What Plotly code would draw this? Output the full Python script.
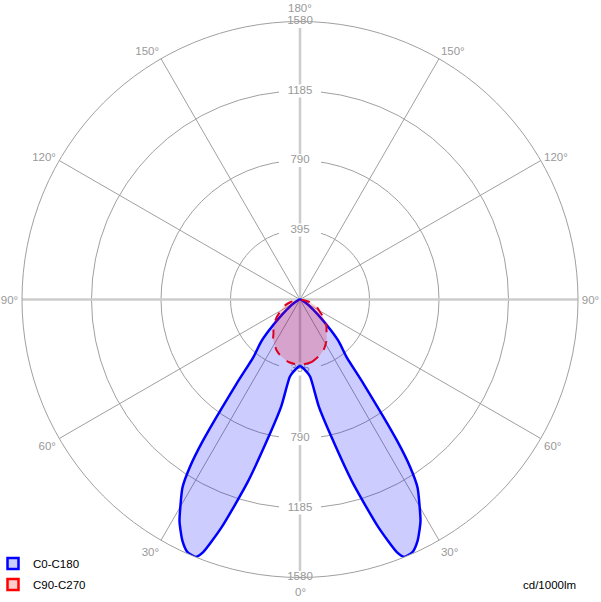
import plotly.graph_objects as go

# gamma angles (degrees from nadir)
gamma = [0, 5, 7.5, 10, 13, 16, 19, 21, 22, 24, 26, 28.5, 30, 32, 33.3, 34.5, 37, 39, 42.5, 45, 50, 55, 60, 70, 80, 90]
# C0-C180 intensity (cd/1000lm)
c0_c180 = [380, 410, 443, 620, 810, 1080, 1370, 1540, 1578, 1572, 1525, 1435, 1360, 1261, 1142, 975, 600, 421, 330, 250, 130, 70, 35, 12, 5, 3]
# C90-C270 intensity (cd/1000lm)
gamma_c90 = [0, 10, 20, 25, 30, 34.5, 38, 45, 53, 60, 67, 75, 82, 90]
c90_c270 = [370, 362, 335, 317, 292, 270, 245, 212, 165, 125, 100, 55, 18, 0]

r_ticks = [395, 790, 1185, 1580]
r_max = 1580
ang_vals = list(range(0, 360, 30))
ang_text = ["", "30°", "60°", "90°", "120°", "150°", "", "150°", "120°", "90°", "60°", "30°"]
pole_text = ["180°", "0°"]

FONT = "Liberation Sans"


def full_curve(g, v):
    # C0 on the right (theta = gamma), C180 on the left (theta = 360 - gamma)
    theta = list(g) + [360 - x for x in reversed(g)]
    r = list(v) + list(reversed(v))
    return theta, r


fig = go.Figure()

# main axes lines (0-180 and 90-270), lighter and thicker
for a in (0, 90, 180, 270):
    fig.add_trace(go.Scatterpolar(
        theta=[a, a], r=[0, r_max], mode="lines",
        line=dict(color="#cccccc", width=2.5), showlegend=False, hoverinfo="skip"))

# radial labels with white background on vertical axis
lab_theta = [180] * len(r_ticks) + [0] * len(r_ticks)
lab_r = r_ticks + r_ticks
lab_txt = [str(v) for v in r_ticks] * 2
fig.add_trace(go.Scatterpolar(
    theta=lab_theta, r=lab_r, mode="markers+text", text=lab_txt,
    textposition="middle center",
    textfont=dict(family=FONT, size=11.5, color="#999999"),
    marker=dict(symbol="line-ew", size=30, line=dict(color="white", width=13)),
    showlegend=False, hoverinfo="skip"))

t1, r1 = full_curve(gamma, c0_c180)
fig.add_trace(go.Scatterpolar(
    theta=t1, r=r1, mode="lines", name="C0-C180", fill="toself", showlegend=False,
    fillcolor="rgba(0,0,255,0.2)", line=dict(color="#0000ff", width=2.5, shape="spline", smoothing=0.6)))

t2, r2 = full_curve(gamma_c90, c90_c270)
fig.add_trace(go.Scatterpolar(
    theta=t2, r=r2, mode="lines", name="C90-C270", fill="toself", showlegend=False,
    fillcolor="rgba(255,0,0,0.2)", line=dict(color="#dd0022", width=2, dash="dash", shape="spline", smoothing=0.6)))

# legend entries as square swatches
fig.add_trace(go.Scatterpolar(
    theta=[None], r=[None], mode="markers", name="C0-C180", legendgroup="a",
    marker=dict(symbol="square", size=11, color="#ccccff", line=dict(color="#0000ff", width=2.5))))
fig.add_trace(go.Scatterpolar(
    theta=[None], r=[None], mode="markers", name="C90-C270", legendgroup="b",
    marker=dict(symbol="square", size=11, color="#ffcccc", line=dict(color="#ff0000", width=2.5))))

W, H = 601, 602
cx, cy, R = 300, 299.5, 278
gap = 14  # label distance outside outer circle for 0°/180°
annotations = [
    dict(text=pole_text[0], xref="paper", yref="paper", x=cx / W, y=1 - (cy - R - gap) / H,
         xanchor="center", yanchor="middle", showarrow=False,
         font=dict(family=FONT, size=11.5, color="#999999")),
    dict(text=pole_text[1], xref="paper", yref="paper", x=cx / W, y=1 - (cy + R + gap) / H,
         xanchor="center", yanchor="middle", showarrow=False,
         font=dict(family=FONT, size=11.5, color="#999999")),
    dict(text="cd/1000lm", xref="paper", yref="paper", x=578 / W, y=1 - 585 / H,
         xanchor="right", yanchor="middle", showarrow=False,
         font=dict(family=FONT, size=11.5, color="#000000")),
]

fig.update_layout(
    width=W, height=H,
    margin=dict(l=0, r=0, t=0, b=0),
    paper_bgcolor="white",
    plot_bgcolor="white",
    font=dict(family=FONT, size=11.5, color="#999999"),
    polar=dict(
        domain=dict(x=[(cx - R) / W, (cx + R) / W], y=[1 - (cy + R) / H, 1 - (cy - R) / H]),
        bgcolor="white",
        angularaxis=dict(
            rotation=-90, direction="counterclockwise",
            tickmode="array", tickvals=ang_vals, ticktext=ang_text,
            showgrid=True, gridcolor="#a0a0a0", gridwidth=1,
            showline=True, linecolor="#a0a0a0", linewidth=1,
            ticks="outside", ticklen=1, tickcolor="rgba(0,0,0,0)",
            tickfont=dict(family=FONT, size=11.5, color="#999999"),
        ),
        radialaxis=dict(
            range=[0, r_max], tickmode="array", tickvals=r_ticks,
            showticklabels=False, ticks="", showline=False,
            showgrid=True, gridcolor="#a0a0a0", gridwidth=1,
        ),
    ),
    showlegend=True,
    legend=dict(
        x=0, y=3 / H, xanchor="left", yanchor="bottom", indentation=-7,
        font=dict(family=FONT, size=11.5, color="#000000"),
        bgcolor="rgba(255,255,255,0)", tracegroupgap=2, itemwidth=30,
    ),
    annotations=annotations,
)

fig.write_html("out.html", post_script="document.body.style.margin='0px';",
               config={"displayModeBar": False})
